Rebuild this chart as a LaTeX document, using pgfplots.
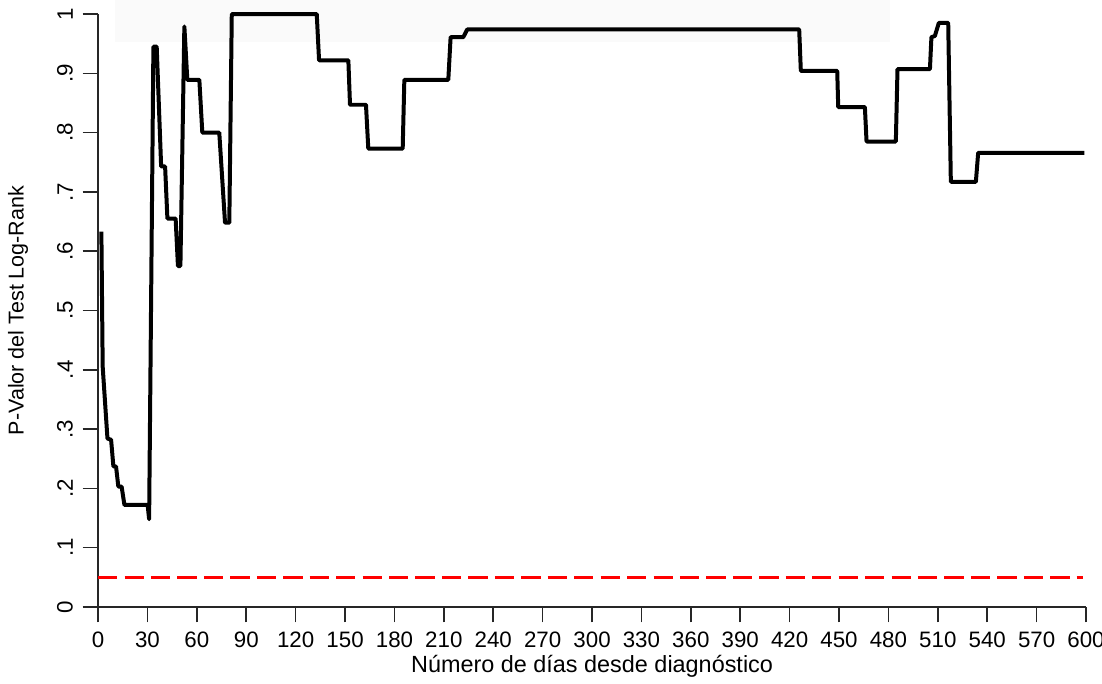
\documentclass[border=0pt]{standalone}
\usepackage{fontspec}
\setmainfont{Liberation Sans}
\usepackage{pgfplots}
\pgfplotsset{compat=1.18}
\begin{document}
\begin{tikzpicture}
\begin{axis}[name=ax, scale only axis, width=358.6pt, height=215.2pt,
  xmin=0, xmax=600, ymin=0, ymax=1,
  axis lines=left, axis line style={-, line width=0.6pt, black!85},
  xtick={0,30,...,600},
  ytick={0,0.1,0.2,0.3,0.4,0.5,0.6,0.7,0.8,0.9,1},
  yticklabels={0,.1,.2,.3,.4,.5,.6,.7,.8,.9,1},
  tick align=outside, major tick length=5.6pt,
  tick style={black!85, line width=0.6pt},
  /pgf/number format/assume math mode=true,
  xticklabel style={font=\fontsize{8.1}{9}\selectfont},
  yticklabel style={font=\fontsize{8.1}{9}\selectfont, rotate=90, anchor=south},
  xlabel={Número de días desde diagnóstico},
  ylabel={P-Valor del Test Log-Rank},
  xlabel style={font=\fontsize{8.5}{10}\selectfont, at={(axis description cs:0.5,-0.1)}, anchor=center},
  ylabel style={font=\fontsize{7.8}{9}\selectfont, at={(axis description cs:-0.0809,0.5)}, anchor=center},
  clip=false]
\fill[black!2] (axis cs:10,0.953) rectangle (axis cs:481,1.03);
\addplot[red, line width=1.1pt, dash pattern=on 7pt off 2.6pt] coordinates {(0,0.05) (598,0.05)};
\addplot[black, line width=1.45pt, line join=round] coordinates {
(2,0.633) (2.8,0.405) (5.7,0.284) (7.9,0.282) (9.3,0.237) (10.9,0.237)
(12.3,0.203) (14.3,0.203) (16,0.172) (30.1,0.172) (31,0.148)
(33.6,0.945) (35.6,0.945) (38.3,0.743) (40.7,0.743) (42.1,0.655) (47.1,0.655)
(48.5,0.575) (50,0.575) (52.4,0.979) (54.2,0.889) (61.5,0.889) (63.3,0.80)
(73.6,0.80) (77.1,0.648) (79.7,0.648) (81.2,1.0) (132.8,1.0) (134.2,0.922)
(152,0.922) (153,0.847) (162.7,0.847) (164.1,0.773) (185,0.773) (186,0.889)
(212.7,0.889) (214.1,0.961) (221.8,0.961) (224.2,0.974) (425.8,0.974)
(426.8,0.904) (448.9,0.904) (449.5,0.843) (465.7,0.843) (466.7,0.785)
(484.5,0.785) (485.5,0.907) (505.2,0.907) (506.1,0.961) (508.2,0.963)
(510.6,0.985) (516.3,0.985) (517.9,0.717) (533.1,0.717) (534.5,0.766) (599,0.766)
};
\end{axis}
\pgfresetboundingbox
\path ([xshift=-35.6pt,yshift=-27.9pt]ax.south west) rectangle ([xshift=5.8pt,yshift=5.1pt]ax.north east);
\end{tikzpicture}
\end{document}
